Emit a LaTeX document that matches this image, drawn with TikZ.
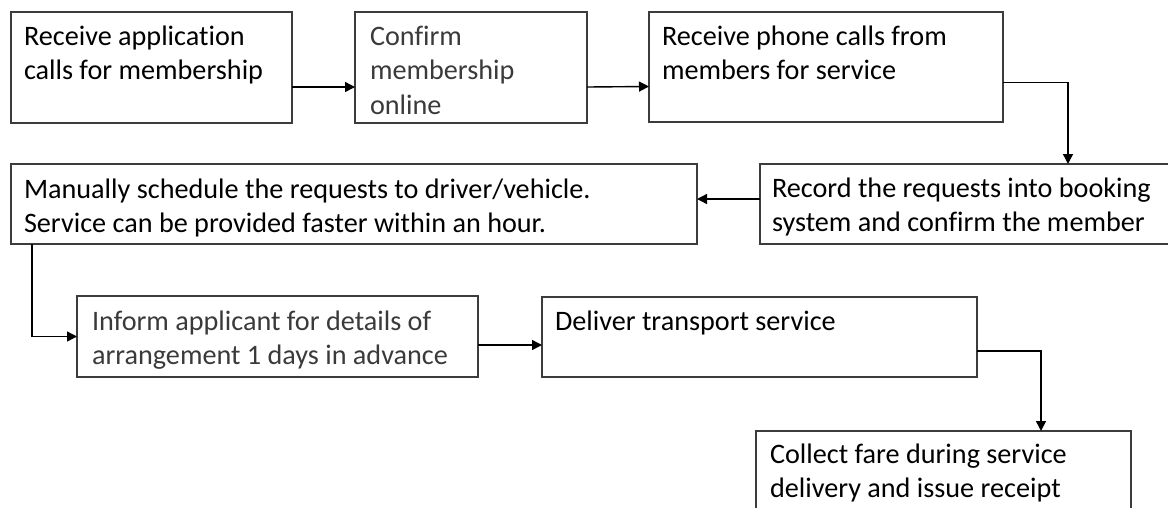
\documentclass[tikz,border=0pt]{standalone}
\usepackage{fontspec}
\setmainfont{Carlito}[Ligatures=NoCommon]
\usetikzlibrary{arrows.meta,calc}
\definecolor{edge}{HTML}{3C3C3C}
\definecolor{softtext}{HTML}{3A3A3A}
\tikzset{
  stepbox/.style={draw=edge, line width=1.6pt, rectangle, anchor=north west,
    inner sep=0pt, outer sep=0pt},
  steptext/.style={anchor=north west, inner sep=0pt, outer sep=0pt, align=left,
    font=\fontsize{28.2}{34.5}\selectfont},
  flow/.style={draw=black, line width=1.4pt,
    -{Triangle[length=10pt,width=10pt]}},
}
% first line strut: fixes the distance from the text top to the first baseline
\newcommand\firstline{\rule{0pt}{24pt}}
\begin{document}
\begin{tikzpicture}[x=1pt,y=1pt]
  \useasboundingbox (0,0) rectangle (1168,-507);
  \clip (0,0) rectangle (1168,-507);

  % boxes (top-left corner, width, height in px)
  \node[stepbox, minimum width=281pt, minimum height=111pt] (b1) at (11,-12) {};
  \node[stepbox, minimum width=232pt, minimum height=111pt] (b2) at (355,-12) {};
  \node[stepbox, minimum width=354pt, minimum height=110pt] (b3) at (649,-12) {};
  \node[stepbox, minimum width=420pt, minimum height=80pt]  (b4) at (760,-164) {};
  \node[stepbox, minimum width=686pt, minimum height=80pt]  (b5) at (11,-164) {};
  \node[stepbox, minimum width=401pt, minimum height=81pt]  (b6) at (77,-296) {};
  \node[stepbox, minimum width=435pt, minimum height=80pt]  (b7) at (542,-297) {};
  \node[stepbox, minimum width=375pt, minimum height=100pt] (b8) at (756,-431) {};

  % texts
  \node[steptext] (t1) at ([xshift=13pt,yshift=-9pt]b1.north west)
    {\firstline Receive application\\calls for membership};
  \node[steptext, text=softtext] (t2) at ([xshift=15pt,yshift=-9pt]b2.north west)
    {\firstline Confirm\\membership\\online};
  \node[steptext] (t3) at ([xshift=13pt,yshift=-9pt]b3.north west)
    {\firstline Receive phone calls from\\members for service};
  \node[steptext] (t4) at ([xshift=12pt,yshift=-9pt]b4.north west)
    {\firstline Record the requests into booking\\system and confirm the member};
  \node[steptext] (t5) at ([xshift=13pt,yshift=-10pt]b5.north west)
    {\firstline Manually schedule the requests to driver/vehicle.\\Service can be provided faster within an hour.};
  \node[steptext, text=softtext] (t6) at ([xshift=15pt,yshift=-10pt]b6.north west)
    {\firstline Inform applicant for details of\\arrangement 1 days in advance};
  \node[steptext] (t7) at ([xshift=13pt,yshift=-9pt]b7.north west)
    {\firstline Deliver transport service};
  \node[steptext] (t8) at ([xshift=14pt,yshift=-8pt]b8.north west)
    {\firstline Collect fare during service\\delivery and issue receipt};

  % connectors
  \draw[flow] ([yshift=-19.5pt]b1.east) -- ([yshift=-19.5pt]b2.west);
  \draw[flow] ([yshift=-19.5pt]b2.east) -- ([yshift=-19.5pt]b3.west);
  \coordinate (c34) at ([xshift=308pt]b4.north west);
  \draw[flow] ([yshift=-15.5pt]b3.east) -| (c34);
  \draw[flow] ([yshift=5pt]b4.west) -- ([yshift=5pt]b5.east);
  \draw[flow] ([xshift=21pt]b5.south west) |- (b6.west);
  \draw[flow] ([yshift=-8.5pt]b6.east) -- ([yshift=-8pt]b7.west);
  \coordinate (c78) at ([xshift=285pt]b8.north west);
  \draw[flow] ([yshift=-14pt]b7.east) -| (c78);
\end{tikzpicture}
\end{document}
